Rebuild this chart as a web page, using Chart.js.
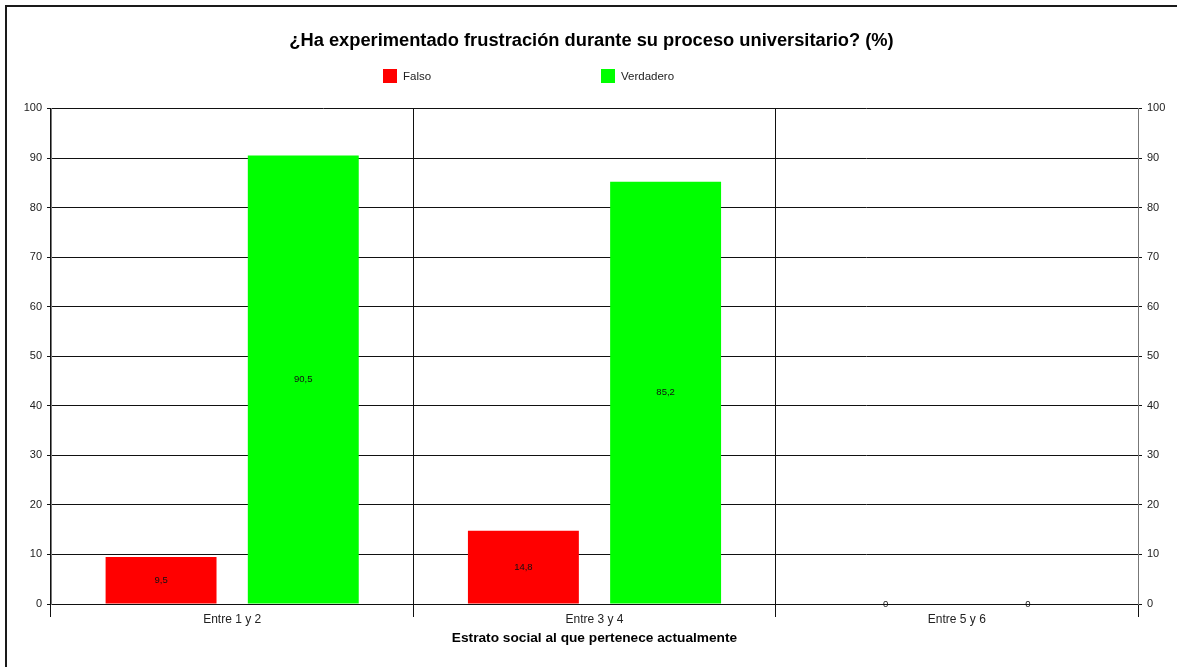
<!DOCTYPE html>
<html>
<head>
<meta charset="utf-8">
<script src="https://cdn.jsdelivr.net/npm/chart.js@4/dist/chart.umd.min.js"></script>
<style>
  html, body { margin: 0; padding: 0; background: #fff; }
  #wrap { position: relative; width: 1177px; height: 667px; }
</style>
</head>
<body>
<div id="wrap"><canvas id="chart"></canvas></div>
<script>
const categories = ['Entre 1 y 2', 'Entre 3 y 4', 'Entre 5 y 6'];
const falso = [9.5, 14.8, 0];
const verdadero = [90.5, 85.2, 0];
const yTicks = [0, 10, 20, 30, 40, 50, 60, 70, 80, 90, 100];

const FONT = "'Liberation Sans', Arial, sans-serif";
const fmt = v => String(v).replace('.', ',');

// frame line on top and left edge
const framePlugin = {
  id: 'frame',
  afterDraw(chart) {
    const ctx = chart.ctx;
    ctx.save();
    ctx.strokeStyle = '#1a1a1a';
    ctx.lineWidth = 2;
    ctx.beginPath();
    ctx.moveTo(6, chart.height);
    ctx.lineTo(6, 6);
    ctx.lineTo(chart.width, 6);
    ctx.stroke();
    ctx.restore();
  }
};

// legend drawn in fixed slots like the original
const legendPlugin = {
  id: 'slotLegend',
  afterDraw(chart) {
    const ctx = chart.ctx;
    const slots = [383, 601];
    ctx.save();
    ctx.font = '11.5px ' + FONT;
    ctx.textBaseline = 'middle';
    chart.data.datasets.forEach((ds, i) => {
      const x = slots[i];
      ctx.fillStyle = ds.backgroundColor;
      ctx.fillRect(x, 69, 14, 14);
      ctx.fillStyle = '#222';
      ctx.fillText(ds.label, x + 20, 76.5);
    });
    ctx.restore();
  }
};

// values in the middle of each bar
const valuePlugin = {
  id: 'values',
  afterDatasetsDraw(chart) {
    const ctx = chart.ctx;
    ctx.save();
    ctx.font = '9.5px ' + FONT;
    ctx.fillStyle = '#111';
    ctx.textAlign = 'center';
    ctx.textBaseline = 'middle';
    chart.data.datasets.forEach((ds, i) => {
      chart.getDatasetMeta(i).data.forEach((bar, j) => {
        ctx.fillText(fmt(ds.data[j]), bar.x, (bar.y + bar.base) / 2);
      });
    });
    ctx.restore();
  }
};

new Chart(document.getElementById('chart'), {
  type: 'bar',
  data: {
    labels: categories,
    datasets: [
      { label: 'Falso', data: falso, backgroundColor: '#ff0000', yAxisID: 'y' },
      { label: 'Verdadero', data: verdadero, backgroundColor: '#00ff00', yAxisID: 'y' }
    ]
  },
  options: {
    responsive: true,
    maintainAspectRatio: false,
    animation: false,
    categoryPercentage: 0.785,
    barPercentage: 0.78,
    layout: { padding: { left: 6, right: 0, top: 0, bottom: 0 } },
    plugins: {
      legend: { display: false },
      tooltip: { enabled: false },
      title: {
        display: true,
        text: '¿Ha experimentado frustración durante su proceso universitario? (%)',
        color: '#000',
        font: { family: FONT, size: 18.3, weight: 'bold' },
        padding: { top: 30, bottom: 56.5 }
      }
    },
    scales: {
      x: {
        grid: { offset: true, color: '#111', lineWidth: 1, tickLength: 13 },
        border: { color: '#111' },
        ticks: { color: '#222', font: { family: FONT, size: 12 }, padding: -5 },
        title: {
          display: true,
          text: 'Estrato social al que pertenece actualmente',
          color: '#000',
          font: { family: FONT, size: 13.7, weight: 'bold' },
          padding: { top: 0, bottom: 21 }
        },
        afterFit: s => { s.height = 63; }
      },
      y: {
        position: 'left',
        min: 0, max: 100,
        afterBuildTicks: s => { s.ticks = yTicks.map(v => ({ value: v })); },
        grid: { color: '#111', lineWidth: 1, tickLength: 4 },
        border: { color: '#777' },
        ticks: { color: '#222', font: { family: FONT, size: 11 }, padding: 5 },
        afterFit: s => { s.width = 45; }
      },
      y2: {
        position: 'right',
        min: 0, max: 100,
        afterBuildTicks: s => { s.ticks = yTicks.map(v => ({ value: v })); },
        grid: { drawOnChartArea: false, color: '#111', tickLength: 4 },
        border: { color: '#777' },
        ticks: { color: '#222', font: { family: FONT, size: 11 }, padding: 5 },
        afterFit: s => { s.width = 39; }
      }
    }
  },
  plugins: [framePlugin, legendPlugin, valuePlugin]
});
</script>
</body>
</html>
